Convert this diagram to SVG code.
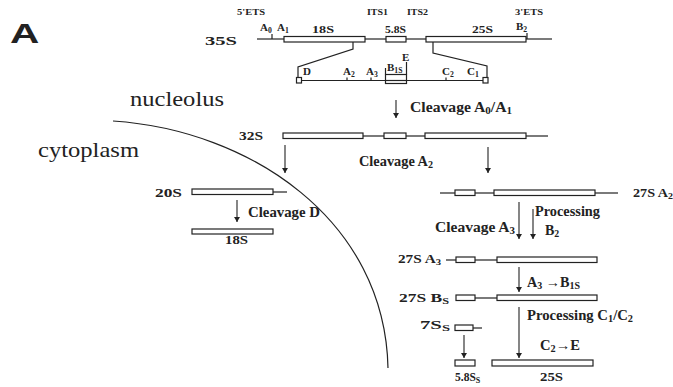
<svg xmlns="http://www.w3.org/2000/svg" width="673" height="387" viewBox="0 0 673 387">
<style>
.bg{fill:#fff}
.ln{stroke:#222;stroke-width:1.2;fill:none}
.bx{stroke:#222;stroke-width:1.2;fill:#fff}
.ar{stroke:#222;stroke-width:1.1;fill:none;marker-end:url(#ah)}
.t{font-family:"Liberation Serif",serif;font-weight:bold;fill:#222}
.s7{font-size:8.5px}
.s10{font-size:11px}
.s12{font-size:13px}
.s13{font-size:14px}
.big{font-family:"Liberation Serif",serif;font-size:21px;fill:#222}
.sub{font-size:70%}
</style>
<defs>
<marker id="ah" markerWidth="5" markerHeight="6" refX="5" refY="3" orient="auto" markerUnits="userSpaceOnUse">
<path d="M0,0 L5,3 L0,6 z" fill="#222"/>
</marker>
</defs>
<rect class="bg" x="0" y="0" width="673" height="387"/>

<text transform="translate(10,43) scale(1.45,1)" x="0" y="0" font-family="'Liberation Sans',sans-serif" font-weight="bold" font-size="28" fill="#222">A</text>

<g id="regions">
<path class="ln" d="M113,121 C250,130 385,220 388,368"/>
<text class="big" x="130" y="106" textLength="94" lengthAdjust="spacingAndGlyphs">nucleolus</text>
<text class="big" x="38" y="157" textLength="101" lengthAdjust="spacingAndGlyphs">cytoplasm</text>
</g>

<g id="pre35S">
<text class="t s12" x="205" y="45" textLength="32" lengthAdjust="spacingAndGlyphs">35S</text>
<text class="t s7" x="237" y="15" textLength="28" lengthAdjust="spacingAndGlyphs">5'ETS</text>
<text class="t s7" x="367" y="15" textLength="21" lengthAdjust="spacingAndGlyphs">ITS1</text>
<text class="t s7" x="407" y="15" textLength="21" lengthAdjust="spacingAndGlyphs">ITS2</text>
<text class="t s7" x="515" y="15" textLength="28" lengthAdjust="spacingAndGlyphs">3'ETS</text>
<line class="ln" x1="257" y1="39" x2="284" y2="39"/>
<line class="ln" x1="365" y1="39" x2="386" y2="39"/>
<line class="ln" x1="406" y1="39" x2="426" y2="39"/>
<line class="ln" x1="526" y1="39" x2="552" y2="39"/>
<line class="ln" x1="272" y1="34" x2="272" y2="39"/>
<line class="ln" x1="527" y1="33" x2="527" y2="39"/>
<rect class="bx" x="284" y="36.5" width="81" height="5.5"/>
<rect class="bx" x="386" y="36.5" width="20" height="5.5"/>
<rect class="bx" x="426" y="36.5" width="100" height="5.5"/>
<text class="t s10" x="260" y="31">A<tspan class="sub" dy="2">0</tspan></text>
<text class="t s10" x="277" y="31">A<tspan class="sub" dy="2">1</tspan></text>
<text class="t s10" x="312" y="33" textLength="22" lengthAdjust="spacingAndGlyphs">18S</text>
<text class="t s10" x="385" y="33" textLength="21" lengthAdjust="spacingAndGlyphs">5.8S</text>
<text class="t s10" x="472" y="33" textLength="21" lengthAdjust="spacingAndGlyphs">25S</text>
<text class="t s10" x="516" y="30">B<tspan class="sub" dy="2">2</tspan></text>
</g>

<g id="its-detail">
<path class="ln" d="M353,42 L353,49 L298,67 L298,77"/>
<path class="ln" d="M433,42 L433,53 L487,66 L487,77"/>
<line class="ln" x1="301" y1="80.5" x2="483" y2="80.5"/>
<rect class="bx" x="296.5" y="77.5" width="5" height="5.5"/>
<rect class="bx" x="483" y="77.5" width="5" height="5.5"/>
<line class="ln" x1="347" y1="77.5" x2="347" y2="80.5"/>
<line class="ln" x1="371" y1="77.5" x2="371" y2="80.5"/>
<line class="ln" x1="446" y1="77.5" x2="446" y2="80.5"/>
<rect class="bx" x="385.5" y="74.5" width="21" height="9"/>
<line class="ln" x1="385.5" y1="80.5" x2="406.5" y2="80.5"/>
<line class="ln" x1="406.5" y1="62" x2="406.5" y2="74.5"/>
<line class="ln" x1="385.5" y1="68" x2="385.5" y2="74.5"/>
<text class="t s10" x="303" y="75">D</text>
<text class="t s10" x="343" y="75">A<tspan class="sub" dy="2">2</tspan></text>
<text class="t s10" x="366" y="75">A<tspan class="sub" dy="2">3</tspan></text>
<text class="t s10" x="387" y="71">B<tspan class="sub" dy="2">1S</tspan></text>
<text class="t s10" x="402" y="61">E</text>
<text class="t s10" x="442" y="75">C<tspan class="sub" dy="2">2</tspan></text>
<text class="t s10" x="467" y="75">C<tspan class="sub" dy="2">1</tspan></text>
</g>

<g id="pre32S">
<text class="t s12" x="239" y="140" textLength="24" lengthAdjust="spacingAndGlyphs">32S</text>
<rect class="bx" x="283" y="133" width="80" height="5.5"/>
<line class="ln" x1="363" y1="136" x2="384" y2="136"/>
<rect class="bx" x="384" y="133" width="22" height="5.5"/>
<line class="ln" x1="406" y1="136" x2="425" y2="136"/>
<rect class="bx" x="425" y="133" width="101" height="5.5"/>
<line class="ln" x1="526" y1="136" x2="548" y2="136"/>
</g>

<g id="pre20S">
<text class="t s12" x="155" y="197" textLength="27" lengthAdjust="spacingAndGlyphs">20S</text>
<rect class="bx" x="192" y="189" width="81" height="5.5"/>
<line class="ln" x1="273" y1="192" x2="287" y2="192"/>
</g>

<g id="mature18S">
<rect class="bx" x="192" y="229" width="81" height="5"/>
<text class="t s12" x="225" y="244" textLength="23" lengthAdjust="spacingAndGlyphs">18S</text>
</g>

<g id="pre27SA2">
<line class="ln" x1="440" y1="193" x2="455" y2="193"/>
<rect class="bx" x="455" y="190" width="20" height="5.5"/>
<line class="ln" x1="475" y1="193" x2="494" y2="193"/>
<rect class="bx" x="494" y="190" width="101" height="5.5"/>
<line class="ln" x1="595" y1="193" x2="618" y2="193"/>
<text class="t s12" x="633" y="197" textLength="40" lengthAdjust="spacingAndGlyphs">27S A<tspan class="sub" dy="2">2</tspan></text>
</g>

<g id="pre27SA3">
<line class="ln" x1="446" y1="260" x2="456" y2="260"/>
<rect class="bx" x="456" y="257" width="19" height="5.5"/>
<line class="ln" x1="475" y1="260" x2="497" y2="260"/>
<rect class="bx" x="497" y="257" width="100" height="5.5"/>
<text class="t s12" x="398" y="263" textLength="43" lengthAdjust="spacingAndGlyphs">27S A<tspan class="sub" dy="2">3</tspan></text>
</g>

<g id="pre27SBS">
<rect class="bx" x="456" y="295" width="19" height="5.5"/>
<line class="ln" x1="475" y1="298" x2="497" y2="298"/>
<rect class="bx" x="497" y="295" width="100" height="5.5"/>
<text class="t s12" x="399" y="302" textLength="50" lengthAdjust="spacingAndGlyphs">27S B<tspan class="sub" dy="2">S</tspan></text>
</g>

<g id="pre7SS">
<rect class="bx" x="455" y="325" width="18" height="5.5"/>
<line class="ln" x1="473" y1="328" x2="482" y2="328"/>
<text class="t s12" x="420" y="329" textLength="30" lengthAdjust="spacingAndGlyphs">7S<tspan class="sub" dy="2">S</tspan></text>
</g>

<g id="mature58S">
<rect class="bx" x="455" y="360" width="20" height="6"/>
<text class="t" font-size="11.5" x="455" y="381">5.8S<tspan class="sub" dy="2">S</tspan></text>
</g>

<g id="mature25S">
<rect class="bx" x="492" y="360" width="101" height="6"/>
<text class="t s12" x="540" y="381" textLength="23" lengthAdjust="spacingAndGlyphs">25S</text>
</g>

<g id="connectors">
<line class="ar" x1="396" y1="100" x2="396" y2="118"/>
<line class="ar" x1="285" y1="145" x2="285" y2="173"/>
<line class="ar" x1="488" y1="147" x2="488" y2="173"/>
<line class="ar" x1="237" y1="200" x2="237" y2="222"/>
<line class="ar" x1="519" y1="202" x2="519" y2="239"/>
<line class="ar" x1="533" y1="209" x2="533" y2="239"/>
<line class="ar" x1="519" y1="267" x2="519" y2="292"/>
<line class="ar" x1="519" y1="307" x2="519" y2="358"/>
<line class="ar" x1="464" y1="335" x2="464" y2="358"/>
</g>

<g id="labels">
<text class="t s13" x="410" y="112" textLength="102" lengthAdjust="spacingAndGlyphs">Cleavage A<tspan class="sub" dy="2">0</tspan><tspan dy="-2">/A</tspan><tspan class="sub" dy="2">1</tspan></text>
<text class="t s13" x="359" y="166" textLength="74" lengthAdjust="spacingAndGlyphs">Cleavage A<tspan class="sub" dy="2">2</tspan></text>
<text class="t s13" x="248" y="217" textLength="72" lengthAdjust="spacingAndGlyphs">Cleavage D</text>
<text class="t s13" x="535" y="216" textLength="65" lengthAdjust="spacingAndGlyphs">Processing</text>
<text class="t s13" x="545" y="235">B<tspan class="sub" dy="2">2</tspan></text>
<text class="t s13" x="435" y="232" textLength="80" lengthAdjust="spacingAndGlyphs">Cleavage A<tspan class="sub" dy="2">3</tspan></text>
<text class="t s13" x="527" y="287" textLength="53" lengthAdjust="spacingAndGlyphs">A<tspan class="sub" dy="2">3</tspan><tspan dy="-2"> →B</tspan><tspan class="sub" dy="2">1S</tspan></text>
<text class="t s13" x="527" y="320" textLength="106" lengthAdjust="spacingAndGlyphs">Processing C<tspan class="sub" dy="2">1</tspan><tspan dy="-2">/C</tspan><tspan class="sub" dy="2">2</tspan></text>
<text class="t s13" x="540" y="350" textLength="40" lengthAdjust="spacingAndGlyphs">C<tspan class="sub" dy="2">2</tspan><tspan dy="-2">→E</tspan></text>
</g>
</svg>
